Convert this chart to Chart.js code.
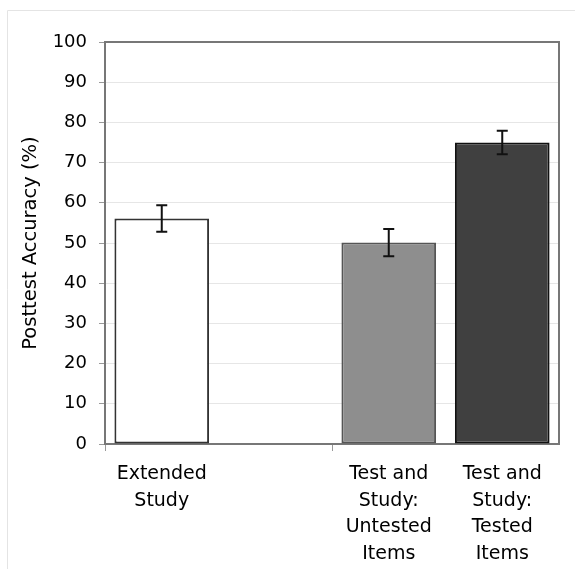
<!DOCTYPE html>
<html>
<head>
<meta charset="utf-8">
<script src="https://cdn.jsdelivr.net/npm/chart.js@4"></script>
<style>
  html, body { margin: 0; padding: 0; background: #fff; }
  #wrap { width: 575px; height: 569px; }
</style>
</head>
<body>
<div id="wrap"><canvas id="myChart" width="575" height="569"></canvas></div>
<script>
// categories along the x axis (second slot is left empty, as in the figure)
const labels = [
  ['Extended', 'Study'],
  '',
  ['Test and', 'Study:', 'Untested', 'Items'],
  ['Test and', 'Study:', 'Tested', 'Items']
];

// mean posttest accuracy and error bar half-widths
const accuracy = [56.1, null, 50.1, 75.0];
const errors = [3.3, null, 3.4, 2.9];

const fills = ['#ffffff', '#ffffff', '#8e8e8e', '#404040'];
const borders = ['#333333', '#333333', '#555555', '#111111'];

// outer frame + plot border + error bars
const extras = {
  id: 'extras',
  beforeDraw(chart) {
    const c = chart.ctx;
    c.save();
    c.strokeStyle = '#e4e4e4';
    c.lineWidth = 1;
    c.beginPath();
    c.moveTo(7.5, chart.height);
    c.lineTo(7.5, 10.5);
    c.lineTo(chart.width, 10.5);
    c.stroke();
    c.restore();
  },
  afterDatasetsDraw(chart) {
    const c = chart.ctx;
    const a = chart.chartArea;
    const x = chart.scales.x, y = chart.scales.y;
    c.save();
    c.strokeStyle = '#777';
    c.lineWidth = 2;
    c.beginPath();
    c.moveTo(a.left, a.top);
    c.lineTo(a.right, a.top);
    c.lineTo(a.right, a.bottom);
    c.stroke();

    c.strokeStyle = '#111';
    c.lineWidth = 2;
    accuracy.forEach((v, i) => {
      if (v == null) return;
      const px = x.getPixelForValue(i);
      const hi = y.getPixelForValue(v + errors[i]);
      const lo = y.getPixelForValue(v - errors[i]);
      c.beginPath();
      c.moveTo(px, hi); c.lineTo(px, lo);
      c.moveTo(px - 5.5, hi); c.lineTo(px + 5.5, hi);
      c.moveTo(px - 5.5, lo); c.lineTo(px + 5.5, lo);
      c.stroke();
    });
    c.restore();
  }
};

const data = {
  labels: labels,
  datasets: [{
    data: accuracy,
    backgroundColor: fills,
    borderColor: borders,
    borderWidth: 2,
    borderSkipped: false,
    categoryPercentage: 1,
    barPercentage: 0.834
  }]
};

const config = {
  type: 'bar',
  data: data,
  plugins: [extras],
  options: {
    responsive: false,
    animation: false,
    layout: {
      padding: { left: 0, top: 42, right: 16, bottom: 0 }
    },
    plugins: {
      legend: { display: false },
      tooltip: { enabled: false }
    },
    scales: {
      x: {
        offset: true,
        afterFit(scale) { scale.height = 125; },
        grid: {
          offset: true,
          drawOnChartArea: false,
          tickLength: 7,
          tickColor: ctx => (ctx.index % 2 === 0 ? '#999' : 'rgba(0,0,0,0)')
        },
        border: { color: '#777', width: 2 },
        ticks: {
          color: '#000',
          maxRotation: 0,
          autoSkip: false,
          padding: 10,
          font: { family: 'DejaVu Sans', size: 19, lineHeight: 1.4 }
        }
      },
      y: {
        min: 0,
        max: 100,
        afterFit(scale) { scale.width = 105; },
        grid: {
          color: '#e6e6e6',
          tickLength: 6,
          tickColor: '#999'
        },
        border: { color: '#777', width: 2 },
        ticks: {
          stepSize: 10,
          color: '#000',
          padding: 12,
          font: { family: 'DejaVu Sans', size: 18 }
        },
        title: {
          display: true,
          text: 'Posttest Accuracy (%)',
          color: '#000',
          padding: { top: 19, bottom: 0 },
          font: { family: 'DejaVu Sans', size: 19.5 }
        }
      }
    }
  }
};

const myChart = new Chart(document.getElementById('myChart'), config);
</script>
</body>
</html>
